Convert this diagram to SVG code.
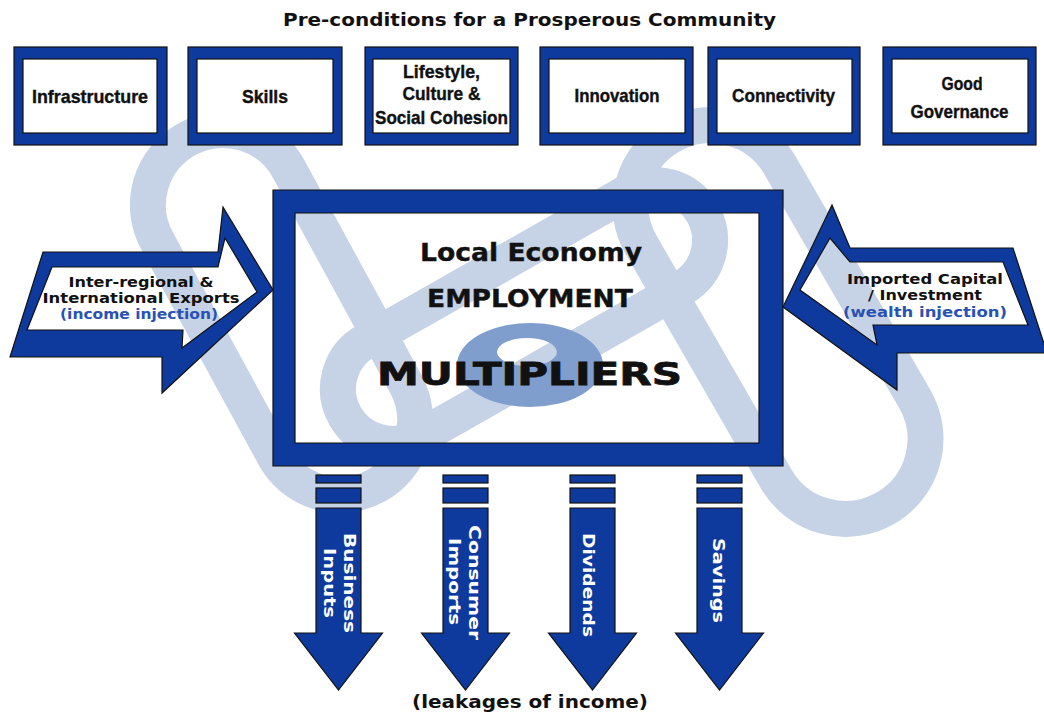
<svg xmlns="http://www.w3.org/2000/svg" width="1044" height="722" viewBox="0 0 1044 722">
<style>
.frame{fill:#0e3a9d;stroke:#111;stroke-width:1.2}
.inner{fill:#fff;stroke:#111;stroke-width:1.2}
.ring{fill:#0e3a9d;fill-rule:evenodd;stroke:#111;stroke-width:1.2}
.link{fill:none;stroke:#c6d2e5;stroke-width:36}
.bt{font-family:"Liberation Sans Narrow","Liberation Sans",Arial,sans-serif;font-weight:bold;font-size:19px;fill:#111;stroke:#111;stroke-width:0.4;text-anchor:middle}
.wt{font-family:"DejaVu Sans",Verdana,sans-serif;font-weight:bold;fill:#111;text-anchor:middle}
.at{font-size:14.5px}
.inj{fill:#2a52b3}
.lt{font-family:"DejaVu Sans",Verdana,sans-serif;font-weight:bold;font-size:15px;fill:#fff;text-anchor:middle}
</style>
<rect width="1044" height="722" fill="#fff"/>
<g id="chain-watermark">
<rect class="link" x="-197.4" y="-75" width="394.8" height="150" rx="75" transform="translate(281.5,312.5) rotate(61.4)"/>
<rect class="link" x="-205.7" y="-55" width="411.4" height="110" rx="55" transform="translate(524,314.5) rotate(-29.6)"/>
<rect class="link" x="-215" y="-80" width="430" height="160" rx="80" transform="translate(778,322) rotate(60)"/>
<path d="M457,365 a73,42 0 1,0 146,0 a73,42 0 1,0 -146,0 Z M497,352 a30,14 0 1,0 60,0 a30,14 0 1,0 -60,0 Z" fill="#7f9dcd" fill-rule="evenodd"/>
</g>
<text class="wt" x="529.5" y="26" font-size="17" textLength="493" lengthAdjust="spacingAndGlyphs">Pre-conditions for a Prosperous Community</text>
<g id="box-infrastructure">
<rect class="frame" x="14" y="47" width="153" height="98"/><rect class="inner" x="23" y="59" width="134" height="74"/>
<text class="bt" x="90" y="103" textLength="116" lengthAdjust="spacingAndGlyphs">Infrastructure</text>
</g>
<g id="box-skills">
<rect class="frame" x="188" y="47" width="154" height="98"/><rect class="inner" x="197" y="59" width="136" height="74"/>
<text class="bt" x="265" y="103" textLength="46" lengthAdjust="spacingAndGlyphs">Skills</text>
</g>
<g id="box-lifestyle">
<rect class="frame" x="365" y="47" width="153" height="98"/><rect class="inner" x="373" y="59" width="137" height="74"/>
<text class="bt" x="441.5" y="78" textLength="77" lengthAdjust="spacingAndGlyphs">Lifestyle,</text>
<text class="bt" x="441.5" y="100" textLength="78" lengthAdjust="spacingAndGlyphs">Culture &amp;</text>
<text class="bt" x="441.5" y="124" textLength="133" lengthAdjust="spacingAndGlyphs">Social Cohesion</text>
</g>
<g id="box-innovation">
<rect class="frame" x="540" y="47" width="153" height="98"/><rect class="inner" x="549" y="59" width="136" height="74"/>
<text class="bt" x="617" y="102" textLength="85" lengthAdjust="spacingAndGlyphs">Innovation</text>
</g>
<g id="box-connectivity">
<rect class="frame" x="708" y="47" width="152" height="98"/><rect class="inner" x="717" y="59" width="135" height="74"/>
<text class="bt" x="783.5" y="102" textLength="103" lengthAdjust="spacingAndGlyphs">Connectivity</text>
</g>
<g id="box-governance">
<rect class="frame" x="883" y="47" width="153" height="98"/><rect class="inner" x="892" y="59" width="136" height="74"/>
<text class="bt" x="962" y="90" textLength="41" lengthAdjust="spacingAndGlyphs">Good</text>
<text class="bt" x="959.5" y="118" textLength="98" lengthAdjust="spacingAndGlyphs">Governance</text>
</g>
<g id="local-economy">
<path class="ring" d="M273,190 H783 V466 H273 Z M295,213 H759 V443 H295 Z"/>
<text class="wt" x="531" y="261" font-size="25" textLength="222" lengthAdjust="spacingAndGlyphs" stroke="#111" stroke-width="0.4">Local Economy</text>
<text class="wt" x="530" y="307" font-size="25" textLength="206" lengthAdjust="spacingAndGlyphs" stroke="#111" stroke-width="0.4">EMPLOYMENT</text>
<text class="wt" x="529.5" y="385" font-size="32" textLength="305" lengthAdjust="spacingAndGlyphs" stroke="#111" stroke-width="0.8">MULTIPLIERS</text>
</g>
<g id="connectors">
<g id="exports-arrow">
<path class="ring" d="M43,252 L218,252 L223,207 L273,290 L162,393 L162,357 L10,357 Z M52,267 L218,267 L225,238 L257,292 L182,348 L183,330 L27,330 Z"/>
<text class="wt at" x="141" y="287" textLength="145" lengthAdjust="spacingAndGlyphs">Inter-regional &amp;</text>
<text class="wt at" x="141" y="303" textLength="197" lengthAdjust="spacingAndGlyphs">International Exports</text>
<text class="wt at inj" x="139" y="319" textLength="158" lengthAdjust="spacingAndGlyphs">(income injection)</text>
</g>
<g id="capital-arrow">
<path class="ring" d="M783,307 L832,205 L850,248 L1013,248 L1047,353 L897,353 L897,390 Z M800,290 L830,238 L850,262 L1003,262 L1028,325 L873,325 L877,345 Z"/>
<text class="wt at" x="925" y="284" textLength="156" lengthAdjust="spacingAndGlyphs">Imported Capital</text>
<text class="wt at" x="925" y="300" textLength="114" lengthAdjust="spacingAndGlyphs">/ Investment</text>
<text class="wt at inj" x="925" y="317" textLength="164" lengthAdjust="spacingAndGlyphs">(wealth injection)</text>
</g>
<g id="leak-business">
<rect class="frame" x="316" y="475" width="45" height="8"/><rect class="frame" x="316" y="488" width="45" height="15"/>
<path class="frame" d="M316,508 H361 V633 H382.5 L338.5,690 L294.5,633 H316 Z"/>
<text class="lt" transform="translate(344,583) rotate(90)" textLength="100" lengthAdjust="spacingAndGlyphs">Business</text>
<text class="lt" transform="translate(324,583) rotate(90)" textLength="70" lengthAdjust="spacingAndGlyphs">Inputs</text>
</g>
<g id="leak-consumer">
<rect class="frame" x="443" y="475" width="45" height="8"/><rect class="frame" x="443" y="488" width="45" height="15"/>
<path class="frame" d="M443,508 H488 V633 H509.5 L465.5,690 L421.5,633 H443 Z"/>
<text class="lt" transform="translate(469,582.5) rotate(90)" textLength="115" lengthAdjust="spacingAndGlyphs">Consumer</text>
<text class="lt" transform="translate(449,581.5) rotate(90)" textLength="87" lengthAdjust="spacingAndGlyphs">Imports</text>
</g>
<g id="leak-dividends">
<rect class="frame" x="570" y="475" width="45" height="8"/><rect class="frame" x="570" y="488" width="45" height="15"/>
<path class="frame" d="M570,508 H615 V633 H636.5 L592.5,690 L548.5,633 H570 Z"/>
<text class="lt" transform="translate(583,585) rotate(90)" textLength="104" lengthAdjust="spacingAndGlyphs">Dividends</text>
</g>
<g id="leak-savings">
<rect class="frame" x="697" y="475" width="45" height="8"/><rect class="frame" x="697" y="488" width="45" height="15"/>
<path class="frame" d="M697,508 H742 V633 H763.5 L719.5,690 L675.5,633 H697 Z"/>
<text class="lt" transform="translate(713,580.5) rotate(90)" textLength="85" lengthAdjust="spacingAndGlyphs">Savings</text>
</g>
</g>
<text class="wt" x="530" y="708" font-size="18" textLength="236" lengthAdjust="spacingAndGlyphs">(leakages of income)</text>
</svg>
